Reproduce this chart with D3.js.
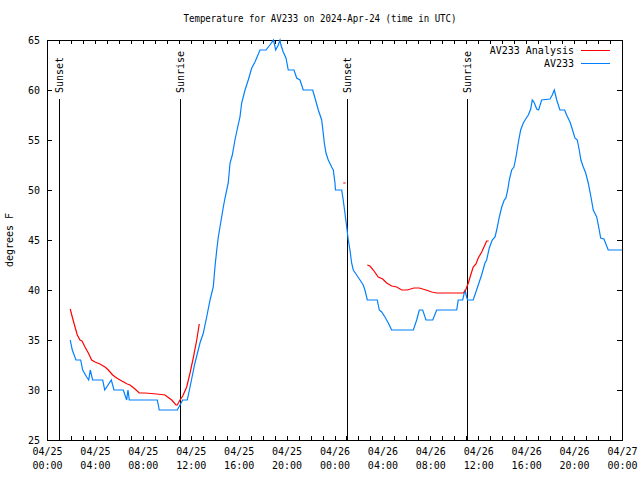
<!DOCTYPE html>
<html><head><meta charset="utf-8">
<script src="https://cdn.jsdelivr.net/npm/d3@7"></script>
<style>
body{margin:0;background:#fff}
text{font-family:"DejaVu Sans Mono",monospace;font-size:10px;fill:#000}
</style>
</head><body>
<svg id="c" width="640" height="480"></svg>
<script>
const titleText = "Temperature for AV233 on 2024-Apr-24 (time in UTC)";
const yLabel = "degrees F";
const yTicks = [25, 30, 35, 40, 45, 50, 55, 60, 65];
const seriesNames = ["AV233 Analysis", "AV233"];
const seriesColors = ["#ff0000", "#0080ff"];
const sunNames = ["Sunset", "Sunrise", "Sunset", "Sunrise"];
const sunHours = [1.0, 11.1, 25.07, 35.08];

// hours since 2024-04-25 00:00 UTC
const blueHours = [1.94,2.11,2.42,2.81,2.98,3.31,3.48,3.61,3.81,4.65,4.82,5.37,5.59,6.37,6.65,6.76,6.87,9.21,9.37,10.88,11.10,11.33,11.71,11.94,12.35,12.77,13.05,13.33,13.61,13.88,14.02,14.17,14.30,14.44,14.58,14.72,14.86,15.13,15.28,15.47,15.69,15.92,16.11,16.25,16.53,16.80,17.09,17.36,17.78,18.28,18.61,18.91,19.09,19.31,19.45,19.53,19.72,19.95,20.14,20.62,20.84,21.12,21.39,22.18,22.37,22.65,22.93,23.06,23.15,23.29,23.48,23.76,23.90,24.04,24.08,24.60,24.73,24.87,25.02,25.15,25.29,25.43,25.57,25.85,26.13,26.40,26.54,26.74,27.57,27.74,27.94,28.21,28.49,28.69,28.77,30.58,30.86,31.08,31.36,31.64,32.20,32.53,34.20,34.33,34.70,34.89,35.03,35.11,35.58,35.86,36.28,36.56,36.70,36.92,37.17,37.40,37.54,37.76,37.96,38.17,38.31,38.46,38.59,38.79,38.98,39.15,39.34,39.54,39.76,39.96,40.18,40.38,40.51,40.65,40.88,41.04,41.29,41.99,42.18,42.35,42.55,42.82,43.21,43.38,43.66,43.82,44.07,44.27,44.43,44.57,44.77,44.97,45.18,45.41,45.60,45.89,46.10,46.22,46.49,46.85,48.0];
const blueTemps = [35,34,33,33,32,31.3,31,32,31,31,30,31,30,30,29,30,29,29,28,28,28.5,29,29,30.3,32.7,34.7,35.7,37.3,39,40.3,42.3,44,45.3,46.3,47.3,48.3,49.2,50.7,52.7,53.5,55,56.3,57.3,58.7,60,61,62.2,62.8,64,64,64.5,65,64,64.5,65,64.5,63.8,63.2,62,62,61.2,61,60,60,59.2,58,57,55.7,54.7,53.7,53,52.3,52,50.7,50,50,49,47.7,46.3,45,44,42.7,42,41.5,41,40.5,40,39,39,38,37.8,37.3,36.7,36.2,36,36,37,38,38,37,37,38,38,39,39,40,39.3,39,39,40,41.5,42.7,43,44.2,45,45.3,46,47.3,48.3,49,49.2,50,51,52,52.3,53.3,54.7,56,56.7,57.1,57.5,58.1,59,58.8,58.1,58,59,59.1,59.5,60,59,58,58,57.5,56.8,56.2,55.2,55,54,53,52.3,51.7,50.7,49.3,48,47.3,46,45.2,45.1,44,44];

// null marks a gap in the analysis series
const redHours = [1.94,2.11,2.34,2.53,2.75,2.92,3.17,3.45,3.73,4.01,4.42,4.84,5.12,5.48,5.82,6.24,6.70,6.93,7.35,7.70,8.18,9.16,9.85,10.41,10.77,10.88,11.10,11.33,11.66,11.94,12.21,12.50,12.71,null,24.73,24.93,null,26.74,26.96,27.24,27.65,28.02,28.36,28.77,29.19,29.61,30.08,30.63,31.08,31.64,32.11,32.53,34.75,34.95,35.17,35.37,35.58,35.81,36.00,36.29,36.48,36.70,36.87];
const redTemps = [38.1,37.3,36.3,35.5,35,34.9,34.3,33.7,33,32.8,32.6,32.3,32,31.5,31.2,30.9,30.6,30.5,30.1,29.7,29.7,29.6,29.5,29,28.5,28.5,29,29.4,30.3,31.7,33.2,35,36.6,null,50.7,50.7,null,42.5,42.4,42,41.3,41.1,40.7,40.4,40.3,40,40,40.2,40.2,40,39.8,39.7,39.7,40,40.7,41.5,42.3,42.6,43.2,43.8,44.3,44.9,44.9];

const t0 = Date.UTC(2024, 3, 25, 0, 0);
const toDate = h => new Date(t0 + h * 3600e3);

const svg = d3.select("#c");
const L = 47, R = 622, T = 40, B = 440;
const x = d3.scaleUtc().domain([toDate(0), toDate(48)]).range([L, R]);
const y = d3.scaleLinear().domain([25, 65]).range([B, T]);

// title
svg.append("text").attr("x", 320).attr("y", 22).attr("text-anchor", "middle")
  .attr("textLength", 273).attr("lengthAdjust", "spacingAndGlyphs").text(titleText);
// y label
svg.append("text").attr("transform", "translate(13,240) rotate(-90)").attr("text-anchor", "middle").text(yLabel);

const hourTicks = d3.range(0, 49).map(toDate);
const labelTicks = d3.range(0, 49, 4).map(toDate);
const fmtD = d3.utcFormat("%m/%d"), fmtT = d3.utcFormat("%H:%M");

// bottom ticks (inward) + labels
const gb = svg.append("g").attr("transform", `translate(0,${B})`)
  .call(d3.axisBottom(x).tickValues(hourTicks).tickSize(-4).tickFormat(""));
gb.select(".domain").remove();
const gbl = svg.append("g").attr("transform", `translate(0,${B})`)
  .call(d3.axisBottom(x).tickValues(labelTicks).tickSize(0).tickPadding(8).tickFormat(fmtD));
gbl.select(".domain").remove();
gbl.selectAll(".tick text").each(function(d) {
  const t = d3.select(this);
  t.text(null).attr("font-size", null).attr("font-family", null).attr("fill", null);
  t.append("tspan").attr("x", 0).attr("dy", "0.71em").text(fmtD(d));
  t.append("tspan").attr("x", 0).attr("dy", "1.4em").text(fmtT(d));
});
// top ticks
const gt = svg.append("g").attr("transform", `translate(0,${T})`)
  .call(d3.axisTop(x).tickValues(hourTicks).tickSize(-4).tickFormat(""));
gt.select(".domain").remove();
// left axis
const gl = svg.append("g").attr("transform", `translate(${L},0)`)
  .call(d3.axisLeft(y).tickValues(yTicks).tickSize(-5).tickPadding(8).tickFormat(d3.format("d")));
gl.select(".domain").remove();
gl.selectAll("text").attr("font-size", null).attr("font-family", null).attr("fill", null).attr("x", -7);
// right axis
const gr = svg.append("g").attr("transform", `translate(${R},0)`)
  .call(d3.axisRight(y).tickValues(yTicks).tickSize(-5).tickFormat(""));
gr.select(".domain").remove();
svg.selectAll(".tick line").attr("stroke", "#000").attr("shape-rendering", "crispEdges");

// frame
svg.append("rect").attr("x", L).attr("y", T).attr("width", R - L).attr("height", B - T)
  .attr("fill", "none").attr("stroke", "#000").attr("shape-rendering", "crispEdges");

// sun lines
sunHours.forEach((h, i) => {
  const px = Math.round(x(toDate(h)));
  svg.append("line").attr("x1", px + 0.5).attr("x2", px + 0.5).attr("y1", 99).attr("y2", B)
    .attr("stroke", "#000").attr("shape-rendering", "crispEdges");
  svg.append("text").attr("transform", `translate(${px + 4},93) rotate(-90)`).attr("text-anchor", "start").text(sunNames[i]);
});

const line = d3.line().defined(d => d[1] != null).x(d => x(toDate(d[0]))).y(d => y(d[1]));
const redData = redHours.map((h, i) => [h, redTemps[i]]);
const blueData = blueHours.map((h, i) => [h, blueTemps[i]]);
svg.append("path").datum(blueData).attr("d", line).attr("fill", "none").attr("stroke", seriesColors[1]).attr("stroke-width", 1.2);
svg.append("path").datum(redData).attr("d", line).attr("fill", "none").attr("stroke", seriesColors[0]).attr("stroke-width", 1.2);

// legend
seriesNames.forEach((n, i) => {
  const ly = 50 + i * 13;
  svg.append("text").attr("x", 574).attr("y", ly).attr("dy", "0.35em").attr("text-anchor", "end").text(n);
  svg.append("line").attr("x1", 581).attr("x2", 610).attr("y1", ly + 0.5).attr("y2", ly + 0.5)
    .attr("stroke", seriesColors[i]).attr("shape-rendering", "crispEdges");
});
</script>
</body></html>
